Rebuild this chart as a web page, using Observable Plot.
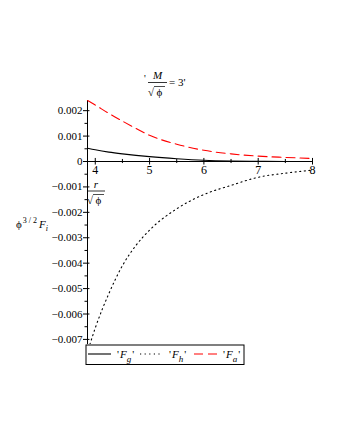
<!DOCTYPE html>
<html><head><meta charset="utf-8">
<script src="https://cdn.jsdelivr.net/npm/d3@7"></script>
<script src="https://cdn.jsdelivr.net/npm/@observablehq/plot@0.6"></script>
<style>
body{margin:0;background:#fff}
</style>
</head><body><div id="chart"></div>
<script>
// r / sqrt(phi) sample points
const rValues = [3.86, 4.0, 4.25, 4.5, 4.75, 5.0, 5.5, 6.0, 6.5, 7.0, 7.5, 8.0];
// phi^(3/2) F_g
const FgValues = [0.00052, 0.00046, 0.00037, 0.00030, 0.00024, 0.00019, 0.00011, 0.00005, 0.00002, 0.000006, 0.000002, 0.0];
// phi^(3/2) F_h
const FhR = [3.9, 4.0, 4.25, 4.5, 4.75, 5.0, 5.5, 6.0, 6.5, 7.0, 7.5, 8.0];
const FhValues = [-0.0072, -0.00655, -0.0052, -0.0041, -0.0033, -0.0027, -0.00186, -0.0013, -0.00094, -0.00062, -0.00046, -0.00034];
// phi^(3/2) F_a
const FaValues = [0.0024, 0.00222, 0.00189, 0.00159, 0.0013, 0.00103, 0.00068, 0.00044, 0.0003, 0.00021, 0.00016, 0.00012];

const xTicks = [4, 5, 6, 7, 8];
const xMinorTicks = [4.5, 5.5, 6.5, 7.5];
const yTicks = [-0.007, -0.006, -0.005, -0.004, -0.003, -0.002, -0.001, 0, 0.001, 0.002];
const yMinorTicks = [-0.0065, -0.0055, -0.0045, -0.0035, -0.0025, -0.0015, -0.0005, 0.0005, 0.0015];
const xDomain = [3.857, 8];
const yDomain = [-0.0072, 0.0024];
const seriesLabels = ["F", "F", "F"];
const seriesSubs = ["g", "h", "a"];

const gRows = rValues.map((r, i) => ({r, v: FgValues[i]}));
const hRows = FhR.map((r, i) => ({r, v: FhValues[i]}));
const aRows = rValues.map((r, i) => ({r, v: FaValues[i]}));

const FONT = "'Liberation Serif', 'DejaVu Serif', serif";
const fmt = d => d === 0 ? "0" : (d < 0 ? "\u2212" : "") + Math.abs(d).toFixed(3);

const chart = Plot.plot({
  width: 340, height: 440,
  marginLeft: 87, marginRight: 28, marginTop: 100, marginBottom: 96,
  style: {fontFamily: FONT, fontSize: "11px", background: "white", color: "black"},
  x: {domain: xDomain, axis: null},
  y: {domain: yDomain},
  marks: [
    Plot.axisY({ticks: yTicks, tickSize: 4, tickPadding: 1, tickFormat: fmt, label: null, fontSize: 11}),
    Plot.axisY({ticks: yMinorTicks, tickSize: 2.5, tickFormat: () => "", label: null}),
    Plot.ruleY(yTicks, {x1: xDomain[0], x2: xDomain[0] + 0.045, stroke: "black"}),
    Plot.ruleX([xDomain[0]], {stroke: "black", strokeWidth: 1}),
    Plot.ruleY([0], {stroke: "black", strokeWidth: 1.2}),
    Plot.ruleX(xTicks, {y1: -0.00014, y2: 0.00012, stroke: "black"}),
    Plot.ruleX(xMinorTicks, {y1: -0.00008, y2: 0.00008, stroke: "black"}),
    Plot.text(xTicks, {x: d => d, y: 0, text: d => String(d), dy: 4, lineAnchor: "top", fontSize: 12}),
    Plot.line(aRows, {x: "r", y: "v", stroke: "#ff0000", strokeWidth: 1.1, strokeDasharray: "9,5", curve: "monotone-x", clip: true}),
    Plot.line(gRows, {x: "r", y: "v", stroke: "black", strokeWidth: 1.1, curve: "monotone-x", clip: true}),
    Plot.line(hRows, {x: "r", y: "v", stroke: "black", strokeWidth: 1.1, strokeDasharray: "1.2,3.4", curve: "monotone-x", clip: true})
  ]
});
document.getElementById("chart").append(chart);

const svg = d3.select(chart);
const ann = svg.append("g").attr("font-family", FONT).attr("fill", "black").attr("text-anchor", "start");

// Title  'M/sqrt(phi) = 3'
ann.append("text").attr("x", 144).attr("y", 82).attr("font-size", 10).text("'");
ann.append("text").attr("x", 157.5).attr("y", 79).attr("font-size", 11).attr("font-style", "italic").attr("text-anchor", "middle").text("M");
ann.append("line").attr("x1", 148).attr("x2", 167).attr("y1", 82.5).attr("y2", 82.5).attr("stroke", "black").attr("stroke-width", 0.8);
ann.append("text").attr("x", 148).attr("y", 96).attr("font-size", 11).text("\u221A");
ann.append("line").attr("x1", 154).attr("x2", 165).attr("y1", 86.5).attr("y2", 86.5).attr("stroke", "black").attr("stroke-width", 0.7);
ann.append("text").attr("x", 159.5).attr("y", 96).attr("font-size", 11).attr("text-anchor", "middle").text("\u03D5");
ann.append("text").attr("x", 169).attr("y", 86).attr("font-size", 11).text("= 3'");

// Y label  phi^{3/2} F_i
const yl = ann.append("text").attr("x", 16).attr("y", 228).attr("font-size", 11);
yl.append("tspan").text("\u03D5");
yl.append("tspan").attr("font-size", 8).attr("dy", -5).attr("dx", 1).text("3 / 2");
yl.append("tspan").attr("font-style", "italic").attr("dy", 5).attr("dx", 2).text("F");
yl.append("tspan").attr("font-style", "italic").attr("font-size", 8).attr("dy", 3).text("i");

// X label  r/sqrt(phi)
ann.append("text").attr("x", 96).attr("y", 188).attr("font-size", 11).attr("font-style", "italic").attr("text-anchor", "middle").text("r");
ann.append("line").attr("x1", 87).attr("x2", 105).attr("y1", 191).attr("y2", 191).attr("stroke", "black").attr("stroke-width", 0.8);
ann.append("text").attr("x", 87).attr("y", 204).attr("font-size", 11).text("\u221A");
ann.append("line").attr("x1", 93).attr("x2", 104).attr("y1", 194.5).attr("y2", 194.5).attr("stroke", "black").attr("stroke-width", 0.7);
ann.append("text").attr("x", 98.5).attr("y", 204).attr("font-size", 11).attr("text-anchor", "middle").text("\u03D5");

// Legend
const lg = svg.append("g").attr("font-family", FONT).attr("text-anchor", "start");
lg.append("rect").attr("x", 86).attr("y", 345).attr("width", 158).attr("height", 19.5).attr("fill", "white").attr("stroke", "black").attr("stroke-width", 1);
const items = [
  {x: 88, stroke: "black", dash: null},
  {x: 140, stroke: "black", dash: "1.2,3.4"},
  {x: 194, stroke: "#ff0000", dash: "9,5"}
];
items.forEach((it, i) => {
  lg.append("line").attr("x1", it.x).attr("x2", it.x + 23).attr("y1", 354).attr("y2", 354)
    .attr("stroke", it.stroke).attr("stroke-width", 1.1).attr("stroke-dasharray", it.dash);
  const t = lg.append("text").attr("x", it.x + 29).attr("y", 358).attr("font-size", 11);
  t.append("tspan").text("'");
  t.append("tspan").attr("font-style", "italic").attr("dx", 1).text(seriesLabels[i]);
  t.append("tspan").attr("font-style", "italic").attr("font-size", 9).attr("dy", 4).text(seriesSubs[i]);
  t.append("tspan").attr("dy", -4).attr("dx", 1).text("'");
});
</script>
</body></html>
